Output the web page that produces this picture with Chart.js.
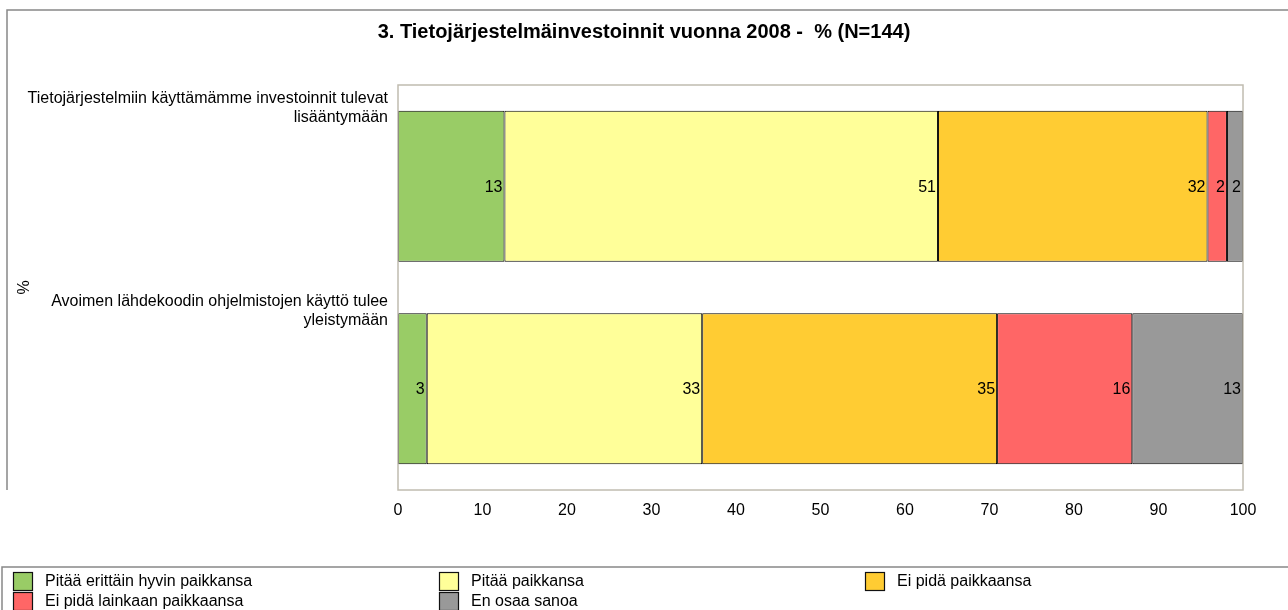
<!DOCTYPE html>
<html>
<head>
<meta charset="utf-8">
<script src="https://cdn.jsdelivr.net/npm/chart.js@4.4.0/dist/chart.umd.min.js"></script>
<style>
  html, body { margin: 0; padding: 0; background: #fff; }
</style>
</head>
<body>
<canvas id="canvas" width="1288" height="610"></canvas>
<script>
// Données du graphique
const chartTitle = '3. Tietojärjestelmäinvestoinnit vuonna 2008 -  % (N=144)';
const yTitle = '%';
const categories = [
    ['Tietojärjestelmiin käyttämämme investoinnit tulevat', 'lisääntymään'],
    ['Avoimen lähdekoodin ohjelmistojen käyttö tulee', 'yleistymään']
];
const seriesNames = [
    'Pitää erittäin hyvin paikkansa',
    'Pitää paikkansa',
    'Ei pidä paikkaansa',
    'Ei pidä lainkaan paikkaansa',
    'En osaa sanoa'
];
const erittainHyvin = [12.6, 3.4];
const pitaa = [51.3, 32.6];
const eiPida = [31.9, 34.9];
const eiLainkaan = [2.3, 16.0];
const enOsaa = [1.9, 13.1];
const xMin = 0;
const xMax = 100;
const xStep = 10;

const colors = ['#99cc66', '#ffff99', '#ffcc33', '#ff6666', '#999999'];
const font = 'Liberation Sans, Arial, sans-serif';
const frameColor = '#c0bcb0';

// Plugin : titre, cadres, étiquettes des catégories, valeurs et légende
const excelLook = {
    id: 'excelLook',
    afterDraw(chart) {
        const ctx = chart.ctx;
        const area = chart.chartArea;
        const yScale = chart.scales.y;
        ctx.save();

        // titre centré sur toute la largeur
        ctx.fillStyle = '#000';
        ctx.font = 'bold 20px ' + font;
        ctx.textAlign = 'center';
        ctx.textBaseline = 'middle';
        ctx.fillText(chartTitle, chart.width / 2, 32);

        // cadre extérieur
        ctx.strokeStyle = '#888';
        ctx.lineWidth = 1.5;
        ctx.beginPath();
        ctx.moveTo(1288, 10);
        ctx.lineTo(7, 10);
        ctx.lineTo(7, 490);
        ctx.stroke();
        ctx.beginPath();
        ctx.moveTo(1288, 567);
        ctx.lineTo(2, 567);
        ctx.lineTo(2, 610);
        ctx.stroke();

        // cadre de la zone de tracé
        ctx.strokeStyle = frameColor;
        ctx.lineWidth = 1.5;
        ctx.strokeRect(area.left, area.top, area.right - area.left, area.bottom - area.top);

        // étiquettes des catégories
        ctx.font = '16px ' + font;
        ctx.textAlign = 'right';
        const slot = (area.bottom - area.top) / categories.length;
        categories.forEach((lines, i) => {
            const top = yScale.getPixelForValue(i) - slot / 2;
            lines.forEach((line, j) => {
                ctx.fillText(line, 388, top + 14 + j * 19);
            });
        });

        // valeurs dans les barres
        chart.data.datasets.forEach((ds, i) => {
            const meta = chart.getDatasetMeta(i);
            meta.data.forEach((bar, j) => {
                ctx.fillText(Math.round(ds.data[j]), bar.x - 2, bar.y + 1);
            });
        });

        // légende
        const cols = [13, 439, 865];
        const rows = [572, 592];
        ctx.textAlign = 'left';
        chart.data.datasets.forEach((ds, i) => {
            const x = cols[i % 3];
            const y = rows[Math.floor(i / 3)];
            ctx.fillStyle = ds.backgroundColor;
            ctx.fillRect(x, y, 20, 19);
            ctx.strokeStyle = '#111';
            ctx.lineWidth = 1.2;
            ctx.strokeRect(x + 0.5, y + 0.5, 19, 18);
            ctx.fillStyle = '#000';
            ctx.fillText(ds.label, x + 32, y + 10);
        });

        ctx.restore();
    }
};

const datasets = [erittainHyvin, pitaa, eiPida, eiLainkaan, enOsaa].map((values, i) => ({
    label: seriesNames[i],
    data: values,
    backgroundColor: colors[i],
    borderColor: '#000',
    borderWidth: 1,
    borderSkipped: false,
    barPercentage: 0.745,
    categoryPercentage: 1
}));

new Chart(document.querySelector('#canvas'), {
    type: 'bar',
    data: {
        labels: categories,
        datasets: datasets
    },
    options: {
        indexAxis: 'y',
        responsive: false,
        animation: false,
        layout: {
            padding: { top: 85, right: 45 }
        },
        plugins: {
            legend: { display: false },
            tooltip: { enabled: false },
            title: { display: false }
        },
        scales: {
            x: {
                stacked: true,
                min: xMin,
                max: xMax,
                grid: { display: false, drawTicks: false },
                border: { display: false },
                ticks: {
                    stepSize: xStep,
                    color: '#000',
                    padding: 11,
                    maxRotation: 0,
                    font: { family: font, size: 16 }
                },
                afterFit(scale) { scale.height = 120; }
            },
            y: {
                stacked: true,
                grid: { display: false },
                border: { display: false },
                ticks: { display: false },
                title: {
                    display: true,
                    text: yTitle,
                    color: '#000',
                    font: { family: font, size: 16 },
                    padding: { top: 15, bottom: 0 }
                },
                afterFit(scale) { scale.width = 398; }
            }
        }
    },
    plugins: [excelLook]
});
</script>
</body>
</html>
